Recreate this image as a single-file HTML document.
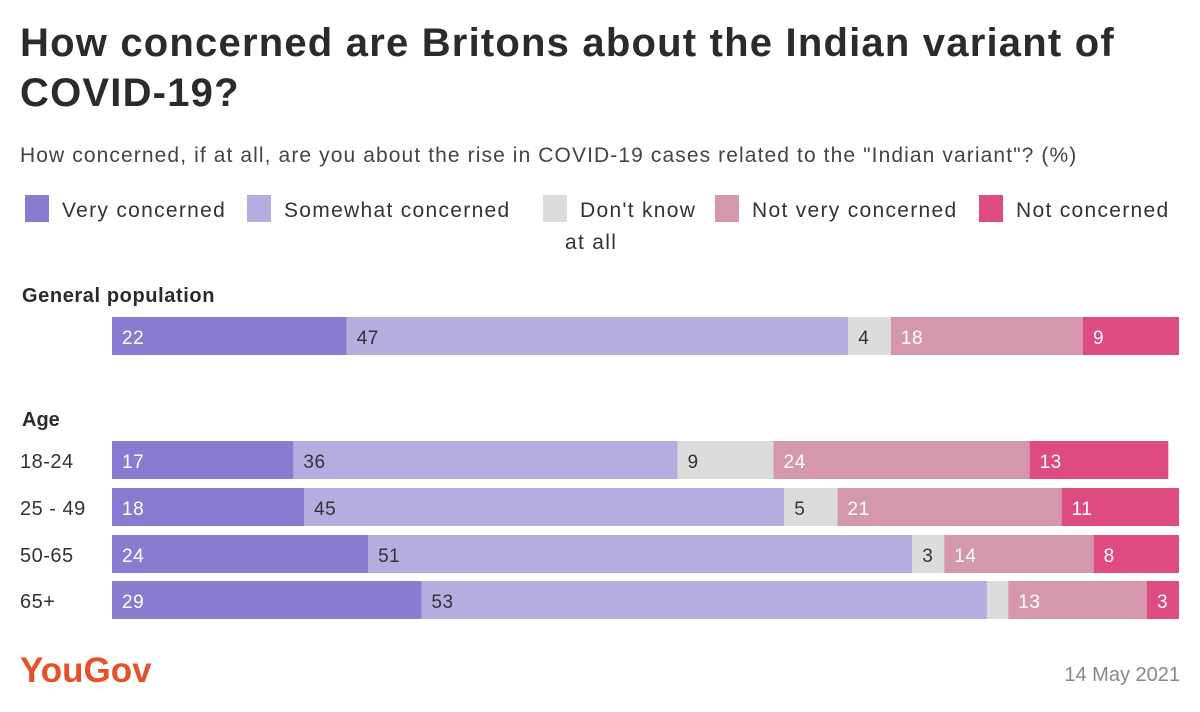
<!DOCTYPE html>
<html><head><meta charset="utf-8"><style>
body{margin:0;width:1200px;height:712px;background:#fff;font-family:"Liberation Sans",sans-serif;position:relative;overflow:hidden;color:#333}
.a{position:absolute;white-space:nowrap}
</style></head><body>
<div class="a" style="left:20px;top:18px;font-size:40px;font-weight:bold;line-height:50px;color:#2b2b2b;letter-spacing:1.2px">How concerned are Britons about the Indian variant of<br>COVID-19?</div>
<div class="a" style="left:20px;top:144px;font-size:21px;color:#444;letter-spacing:1.1px">How concerned, if at all, are you about the rise in COVID-19 cases related to the "Indian variant"? (%)</div>
<svg id="chart" width="1200" height="712" style="position:absolute;left:0;top:0"></svg>
<div class="a" style="left:20px;top:651px;font-size:35px;font-weight:bold;color:#e4512b;letter-spacing:0px">YouGov</div>
<div class="a" style="right:20px;top:664px;font-size:20px;color:#888">14 May 2021</div>
<script>
const seriesNames=["Very concerned","Somewhat concerned","Don't know","Not very concerned","Not concerned"];
const colors=["#8a7bd1","#b5acdf","#dcdcdc","#d597ae","#dd4b80"];
const textColors=["#fff","#333","#333","#fff","#fff"];
const categories=["General population","18-24","25 - 49","50-65","65+"];
const veryConcerned=[22,17,18,24,29];
const somewhat=[47,36,45,51,53];
const dontKnow=[4,9,5,3,2];
const notVery=[18,24,21,14,13];
const notConcerned=[9,13,11,8,3];
const series=[veryConcerned,somewhat,dontKnow,notVery,notConcerned];
const rowTops=[317,441,488,535,581];
const x0=112,pxPer=10.67,barH=38;
const xs=v=>v*pxPer;
const svg=document.getElementById('chart');
const NS="http://www.w3.org/2000/svg";
function t(x,y,s,opt){const e=document.createElementNS(NS,'text');e.setAttribute('x',x);e.setAttribute('y',y);e.textContent=s;e.setAttribute('font-family','Liberation Sans, sans-serif');for(const k in opt)e.setAttribute(k,opt[k]);svg.appendChild(e);return e;}
let e=t(22,302,"General population",{'font-size':20,'font-weight':'bold',fill:'#2b2b2b','letter-spacing':0.6});


e=t(22,426,"Age",{'font-size':20,'font-weight':'bold',fill:'#2b2b2b'});


categories.forEach((c,i)=>{
  const y=rowTops[i];
  if(i>0){const l=t(20,y+27,c,{'font-size':20,fill:'#333','letter-spacing':0.5});
    
    }
  let x=x0;
  series.forEach((s,j)=>{
    const w=xs(s[i]);
    const r=document.createElementNS(NS,'rect');
    r.setAttribute('x',x);r.setAttribute('y',y);r.setAttribute('width',w);r.setAttribute('height',barH);r.setAttribute('fill',colors[j]);
    
    
    svg.appendChild(r);
    if(s[i]>=3){const v=t(x+10,y+27,String(s[i]),{'font-size':19,fill:textColors[j],'letter-spacing':0.5});
      
      }
    x+=w;
  });
});
const lg=[[22,"Very concerned"],[244,"Somewhat concerned"],[540,"Don't know"],[712,"Not very concerned"],[976,"Not concerned"]];
lg.forEach((p,j)=>{
  const r=document.createElementNS(NS,'rect');
  r.setAttribute('x',p[0]+3);r.setAttribute('y',195);r.setAttribute('width',24);r.setAttribute('height',27);r.setAttribute('fill',colors[j]);
  
  
  svg.appendChild(r);
  const l=t(p[0]+40,217,p[1],{'font-size':21,fill:'#333','letter-spacing':1.3});
  
  
});
e=t(565,249,"at all",{'font-size':21,fill:'#333','letter-spacing':1.3});


</script>
</body></html>
